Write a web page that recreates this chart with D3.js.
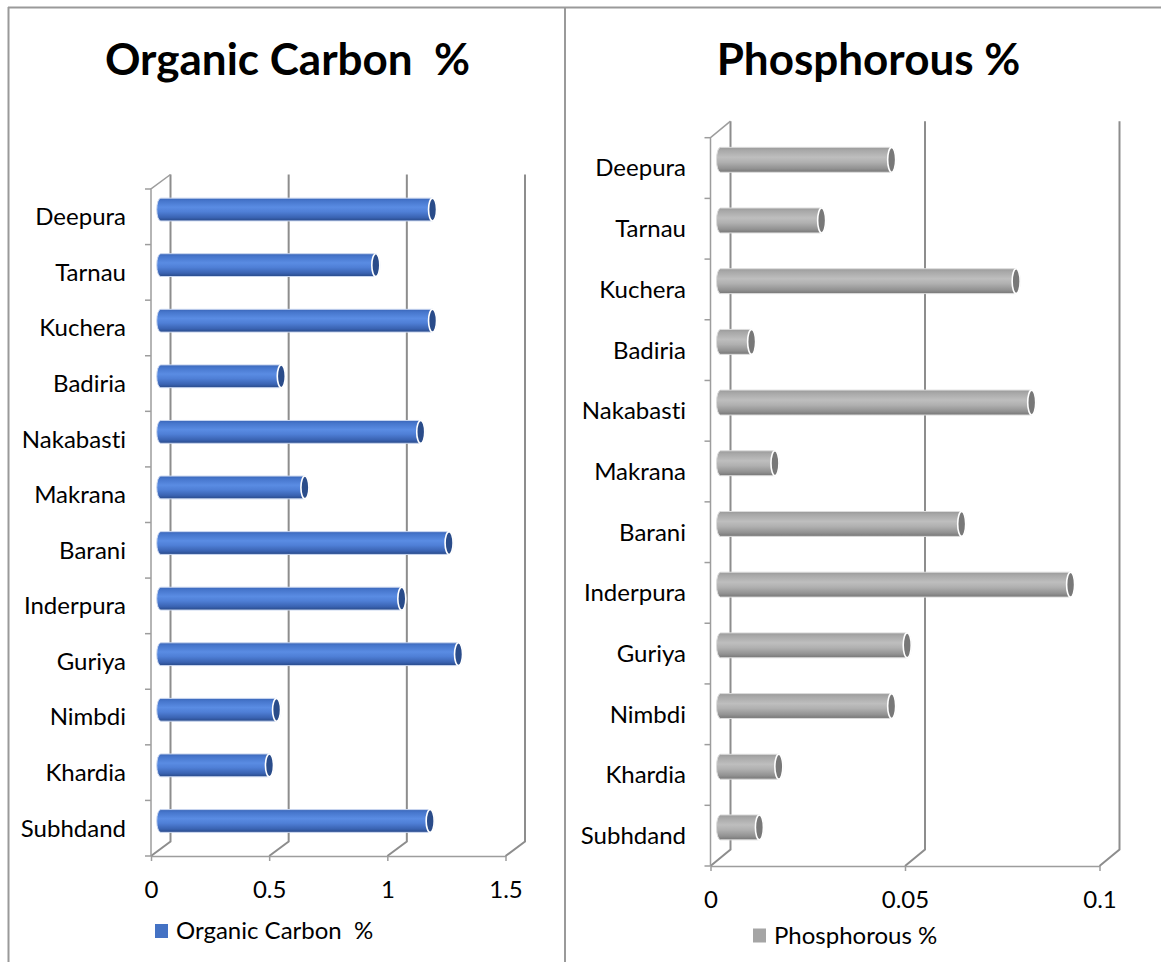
<!DOCTYPE html>
<html>
<head>
<meta charset="utf-8">
<script src="https://cdn.jsdelivr.net/npm/d3@7"></script>
<style>
  html, body { margin: 0; padding: 0; background: #ffffff; }
  svg { display: block; }
  text { font-family: Lato, "Open Sans", sans-serif; fill: #000; white-space: pre;
         font-variant-ligatures: none; font-feature-settings: "liga" 0, "clig" 0; }
</style>
</head>
<body>
<svg id="chart" width="1161" height="962"></svg>
<script>
// Soil samples by village
const villages = ["Deepura", "Tarnau", "Kuchera", "Badiria", "Nakabasti", "Makrana",
                  "Barani", "Inderpura", "Guriya", "Nimbdi", "Khardia", "Subhdand"];
const organicCarbon = [1.15, 0.91, 1.15, 0.51, 1.10, 0.61, 1.22, 1.02, 1.26, 0.49, 0.46, 1.14];
const phosphorous   = [0.044, 0.026, 0.076, 0.008, 0.080, 0.014, 0.062, 0.090, 0.048, 0.044, 0.015, 0.010];
const carbonTicks = [0, 0.5, 1, 1.5];
const phosTicks   = [0, 0.05, 0.1];
const carbonTitle = "Organic Carbon  %";
const phosTitle   = "Phosphorous %";

const svg = d3.select("#chart");
const defs = svg.append("defs");

// frame lines
const frame = svg.append("g").attr("stroke", "#9a9a9a").attr("stroke-width", 2).attr("fill", "none");
frame.append("line").attr("x1", 8).attr("y1", 7.5).attr("x2", 1161).attr("y2", 7.5);
frame.append("line").attr("x1", 8.5).attr("y1", 7).attr("x2", 8.5).attr("y2", 962);
frame.append("line").attr("x1", 565).attr("y1", 7).attr("x2", 565).attr("y2", 962);

function gradient(id, stops) {
  const g = defs.append("linearGradient").attr("id", id)
    .attr("x1", 0).attr("y1", 0).attr("x2", 0).attr("y2", 1);
  stops.forEach(([o, c]) => g.append("stop").attr("offset", o).attr("stop-color", c));
}
gradient("blueBody", [[0, "#3a66b8"], [0.12, "#4676cc"], [0.4, "#5a8ce3"], [0.6, "#4f7fd6"], [0.85, "#3a63b2"], [1, "#284988"]]);
gradient("grayBody", [[0, "#9a9a9a"], [0.12, "#a8a8a8"], [0.4, "#bebebe"], [0.6, "#b0b0b0"], [0.85, "#929292"], [1, "#767676"]]);

function panel(cfg) {
  const g = svg.append("g");
  const x = d3.scaleLinear().domain(cfg.domain).range(cfg.xRange);
  const y = d3.scaleBand().domain(villages).range(cfg.yRange);
  const dx = cfg.depth[0], dy = cfg.depth[1];
  const [top, bottom] = cfg.yRange;

  // back wall gridlines and their floor diagonals
  const grid = g.append("g").attr("fill", "none").attr("stroke", "#8d8d8d").attr("stroke-width", 2);
  grid.selectAll("path").data(cfg.ticks).join("path")
    .attr("d", d => `M${x(d) + dx},${top + dy}V${bottom + dy}L${x(d)},${bottom}`);

  // left side wall: front edge, top edge and category dividers
  const side = g.append("g").attr("fill", "none").attr("stroke", "#9d9d9d").attr("stroke-width", 1.5);
  side.append("path").attr("d", `M${x(0) + dx},${top + dy}L${x(0)},${top}V${bottom}`);
  side.selectAll("line.div").data(villages.concat([null])).join("line")
    .attr("class", "div")
    .attr("x1", x(0) - 6).attr("x2", x(0))
    .attr("y1", (d, i) => top + i * y.step())
    .attr("y2", (d, i) => top + i * y.step());

  // category labels
  const yAxis = g.append("g").attr("transform", `translate(${cfg.labelX},0)`)
    .call(d3.axisLeft(y).tickSize(0).tickPadding(0));
  yAxis.select(".domain").remove();
  yAxis.selectAll("text").style("font-size", cfg.labelSize + "px").attr("dy", "0.35em");

  // value axis on the front floor edge
  const xAxis = g.append("g").attr("transform", `translate(0,${bottom})`)
    .call(d3.axisBottom(x).tickValues(cfg.ticks).tickSize(5).tickSizeOuter(0).tickFormat(d3.format("~g")));
  xAxis.select(".domain").attr("stroke", "#9d9d9d").attr("stroke-width", 1.5);
  xAxis.selectAll(".tick line").attr("stroke", "#9d9d9d").attr("stroke-width", 1.5);
  xAxis.selectAll("text").style("font-size", cfg.labelSize + "px")
    .attr("y", cfg.tickLabelY).attr("dy", "0.35em");

  // cylinders
  const bh = y.bandwidth() * 0.41, ry = bh / 2, rx = 4;
  const bars = g.append("g").selectAll("g").data(villages.map((v, i) => ({ v, val: cfg.values[i] }))).join("g");
  bars.append("path")
    .attr("d", d => {
      const cy = y(d.v) + y.bandwidth() / 2 + dy / 2;
      const xs = x(0) + dx / 2, xe = x(d.val) + dx / 2;
      return `M${xs},${cy - ry}H${xe}A${rx},${ry} 0 0 1 ${xe},${cy + ry}H${xs}A${rx},${ry} 0 0 1 ${xs},${cy - ry}Z`;
    })
    .attr("fill", `url(#${cfg.body})`)
    .attr("stroke", cfg.edge).attr("stroke-width", 1);
  bars.append("ellipse")
    .attr("cx", d => x(d.val) + dx / 2)
    .attr("cy", d => y(d.v) + y.bandwidth() / 2 + dy / 2)
    .attr("rx", rx).attr("ry", ry)
    .attr("fill", cfg.cap).attr("stroke", "#ffffff").attr("stroke-width", 1.6);

  // title
  g.append("text").attr("x", cfg.titleX).attr("y", cfg.titleY)
    .attr("text-anchor", "middle").style("font-size", "44px").style("font-weight", 700)
    .text(cfg.title);

  // legend
  const lg = g.append("g").attr("transform", `translate(${cfg.legend[0]},${cfg.legend[1]})`);
  lg.append("rect").attr("x", 0).attr("y", -7).attr("width", 13).attr("height", 14).attr("fill", cfg.swatch);
  lg.append("text").attr("x", 21).attr("y", 0).attr("dy", "0.35em")
    .style("font-size", cfg.labelSize + "px").text(cfg.title);
}

panel({
  values: organicCarbon, ticks: carbonTicks, domain: [0, 1.5],
  xRange: [151, 505.5], yRange: [189, 856], depth: [19.5, -14.5],
  labelX: 126, labelSize: 24, tickLabelY: 34,
  body: "blueBody", edge: "#c9d6ef", cap: "#2a4c8a", swatch: "#4472c4",
  title: carbonTitle, titleX: 287.5, titleY: 75, legend: [155, 931]
});

panel({
  values: phosphorous, ticks: phosTicks, domain: [0, 0.1],
  xRange: [710.5, 1099.5], yRange: [137.7, 866], depth: [20, -16.5],
  labelX: 686, labelSize: 24, tickLabelY: 34,
  body: "grayBody", edge: "#dcdcdc", cap: "#787878", swatch: "#a5a5a5",
  title: phosTitle, titleX: 868.5, titleY: 75, legend: [753, 935.5]
});
</script>
</body>
</html>
